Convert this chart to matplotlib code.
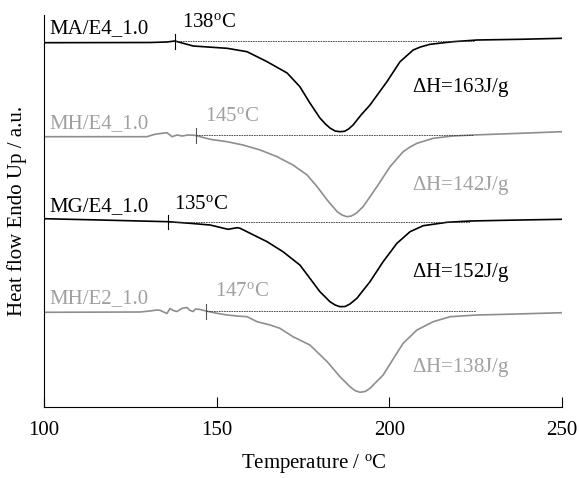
import matplotlib
matplotlib.use("Agg")
import matplotlib.pyplot as plt

plt.rcParams['font.family'] = ['Liberation Serif', 'DejaVu Serif']
plt.rcParams['mathtext.fontset'] = 'custom'
plt.rcParams['mathtext.rm'] = 'Liberation Serif'
plt.rcParams['mathtext.it'] = 'Liberation Serif:italic'

# ---- data (temperature in °C, heat flow in arbitrary units, endo up) ----
t_ma = [100, 130.7, 135.6, 137.9, 143.2, 153.0, 158.8, 164.6, 170.4, 174.1, 177.0,
        179.9, 181.5, 182.8, 184.3, 185.7, 187.0, 188.2, 189.5, 191.8, 194.4,
        199.3, 203.1, 206.9, 209.0, 211.8, 218.4, 225.4, 237.9, 250]
h_ma = [36.43, 36.45, 36.5, 36.6, 36.1, 35.87, 35.53, 34.53, 33.4, 32.03, 30.4,
        28.9, 28.3, 27.9, 27.6, 27.53, 27.57, 27.8, 28.2, 29.2, 30.2,
        32.53, 34.53, 35.7, 36.0, 36.27, 36.53, 36.7, 36.77, 36.87]

t_mh4 = [100, 129.8, 132.1, 134.2, 135.6, 137.1, 138.5, 140.0, 141.7, 143.7, 148.1,
         153.0, 157.6, 162.6, 167.5, 172.1, 176.2, 179.1, 182.0, 184.9, 186.3,
         187.7, 189.0, 190.5, 192.4, 196.4, 200.2, 204.0, 206.0, 208.0, 212.7,
         218.4, 224.2, 237.9, 250]
h_mh4 = [27.03, 27.03, 27.27, 27.37, 27.43, 27.03, 27.2, 27.1, 27.2, 27.17, 26.77,
         26.53, 26.2, 25.7, 25.03, 24.2, 23.2, 22.03, 20.7, 19.53, 19.2,
         19.03, 19.1, 19.4, 20.03, 22.03, 24.03, 25.53, 26.0, 26.37, 26.87,
         27.1, 27.2, 27.37, 27.53]

t_mg = [100, 116.2, 135.9, 142.3, 148.1, 153.3, 155.9, 156.8, 159.7, 164.6, 169.2,
        174.1, 177.0, 179.9, 182.8, 184.3, 185.7, 187.2, 188.6, 190.6, 194.4,
        198.2, 202.2, 206.0, 209.8, 216.7, 223.4, 237.9, 250]
h_mg = [18.83, 18.7, 18.53, 18.37, 18.2, 17.77, 17.93, 17.87, 17.37, 16.53, 15.53,
        14.2, 12.87, 11.53, 10.53, 10.2, 10.03, 10.05, 10.3, 10.87, 12.53,
        14.53, 16.37, 17.53, 18.13, 18.47, 18.6, 18.7, 18.77]

t_mh2 = [100, 127.8, 130.7, 132.7, 133.6, 135.6, 136.5, 137.4, 138.5, 140.0, 141.4,
         142.3, 143.2, 143.9, 145.2, 146.9, 150.1, 153.0, 155.9, 158.8, 161.7,
         165.5, 168.3, 172.1, 177.0, 182.0, 185.7, 188.6, 190.0, 191.5, 193.0,
         194.4, 198.2, 202.2, 204.0, 208.0, 212.7, 217.6, 225.4, 237.0, 250]
h_mh2 = [9.47, 9.5, 9.6, 9.7, 9.67, 9.35, 9.85, 9.65, 9.55, 9.87, 9.95,
         9.65, 9.55, 9.8, 9.75, 9.6, 9.37, 9.2, 9.1, 9.03, 8.53,
         8.2, 7.87, 7.03, 6.2, 4.53, 3.03, 2.03, 1.65, 1.47, 1.55,
         1.87, 3.2, 5.4, 6.37, 7.7, 8.53, 9.03, 9.2, 9.3, 9.43]

names = ['MA/E4_1.0', 'MH/E4_1.0', 'MG/E4_1.0', 'MH/E2_1.0']
onset_labels = [138, 145, 135, 147]
onset_t = [137.9, 144.0, 135.9, 146.9]
onset_h = [36.6, 27.17, 18.53, 9.6]
baseline_end = [224.5, 224.2, 223.4, 225.0]
dh_values = [163, 142, 152, 138]
name_y = [37.4, 27.9, 19.63, 10.37]
onset_lab_t = [139.9, 146.6, 137.5, 149.5]
onset_lab_y = [37.97, 28.63, 19.77, 11.1]
dh_y = [31.53, 21.7, 13.03, 3.53]

xticks = [100, 150, 200, 250]

# ---- figure ----
fig = plt.figure(figsize=(5.79, 4.78), dpi=100)
ax = fig.add_axes([44 / 579, 1 - 407 / 478, (562 - 44) / 579, (407 - 15) / 478])

curve_col = ['black', '#8e8e8e', 'black', '#8e8e8e']
text_col = ['black', '#a0a0a0', 'black', '#a0a0a0']
tick_col = ['black', '#555555', 'black', '#555555']
curves = [(t_ma, h_ma), (t_mh4, h_mh4), (t_mg, h_mg), (t_mh2, h_mh2)]

for i, (t, h) in enumerate(curves):
    ax.plot(t, h, color=curve_col[i], lw=1.2, solid_joinstyle='round')
    ax.plot([onset_t[i], baseline_end[i]], [onset_h[i], onset_h[i]],
            color='#333333', lw=0.6, ls=(0, (2, 1)))
    ax.plot([onset_t[i], onset_t[i]], [onset_h[i] - 0.75, onset_h[i] + 0.7],
            color=tick_col[i], lw=0.8)
    ax.text(101.5, name_y[i], names[i], color=text_col[i], fontsize=15,
            ha='left', va='baseline')
    ax.text(onset_lab_t[i], onset_lab_y[i], f'{onset_labels[i]}$^{{\\mathrm{{o}}}}$C',
            color=text_col[i], fontsize=15, ha='left', va='baseline')
    ax.text(206.5, dh_y[i], f'$\\mathit{{\\Delta}}$H={dh_values[i]}J/g',
            color=text_col[i], fontsize=15, ha='left', va='baseline')

ax.set_xlim(100, 250)
ax.set_ylim(0, 39.2)
ax.set_xticks(xticks)
ax.set_xticklabels([str(v) for v in xticks])
ax.set_yticks([])
ax.tick_params(axis='x', direction='in', length=7, width=0.8, labelsize=15, pad=10)
ax.spines['top'].set_visible(False)
ax.spines['right'].set_visible(False)
for s in ['left', 'bottom']:
    ax.spines[s].set_linewidth(0.8)

ax.set_xlabel('Temperature / $^{\\mathrm{o}}$C', fontsize=15, labelpad=8)
ax.xaxis.set_label_coords(0.52, -0.115)
ax.set_ylabel('Heat flow Endo Up / a.u.', fontsize=15)
ax.yaxis.set_label_coords(-0.032, 0.5)

fig.savefig('out.png', dpi=100)
